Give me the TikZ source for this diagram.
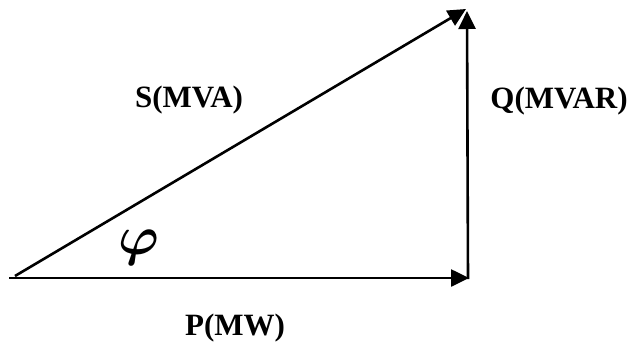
\documentclass[tikz,border=0pt]{standalone}
\usepackage{fontspec}
\usepackage{bm}
\setmainfont{Liberation Serif}
\usetikzlibrary{arrows.meta}
\tikzset{
  vec/.style={line width=2.6pt, -{Triangle[length=18pt,width=17pt]}},
  lbl/.style={font=\fontsize{31}{37}\selectfont\bfseries, inner sep=0pt},
  ang/.style={font=\fontsize{24}{29}\selectfont, inner sep=0pt, scale=2.2}
}
\begin{document}
\begin{tikzpicture}[x=1pt,y=-1pt]
\useasboundingbox (0,0) rectangle (631,356);
\coordinate (O) at (9,278);
\coordinate (Oh) at (15,276);
\coordinate (B) at (469,278);
\coordinate (T) at (466,9);
\coordinate (Bv) at (468,279);
\coordinate (Tv) at (467,11);
\draw[vec] (O) -- (B);
\draw[vec] (Bv) -- (Tv);
\draw[vec] (Oh) -- (T);
\node[lbl] (S) at (189,100) {S(MVA)};
\node[lbl] (Q) at (559,101) {Q(MVAR)};
\node[lbl] (P) at (235,328) {P(MW)};
\node[ang] (phi) at (139,248) {$\bm{\varphi}$};
\end{tikzpicture}
\end{document}
